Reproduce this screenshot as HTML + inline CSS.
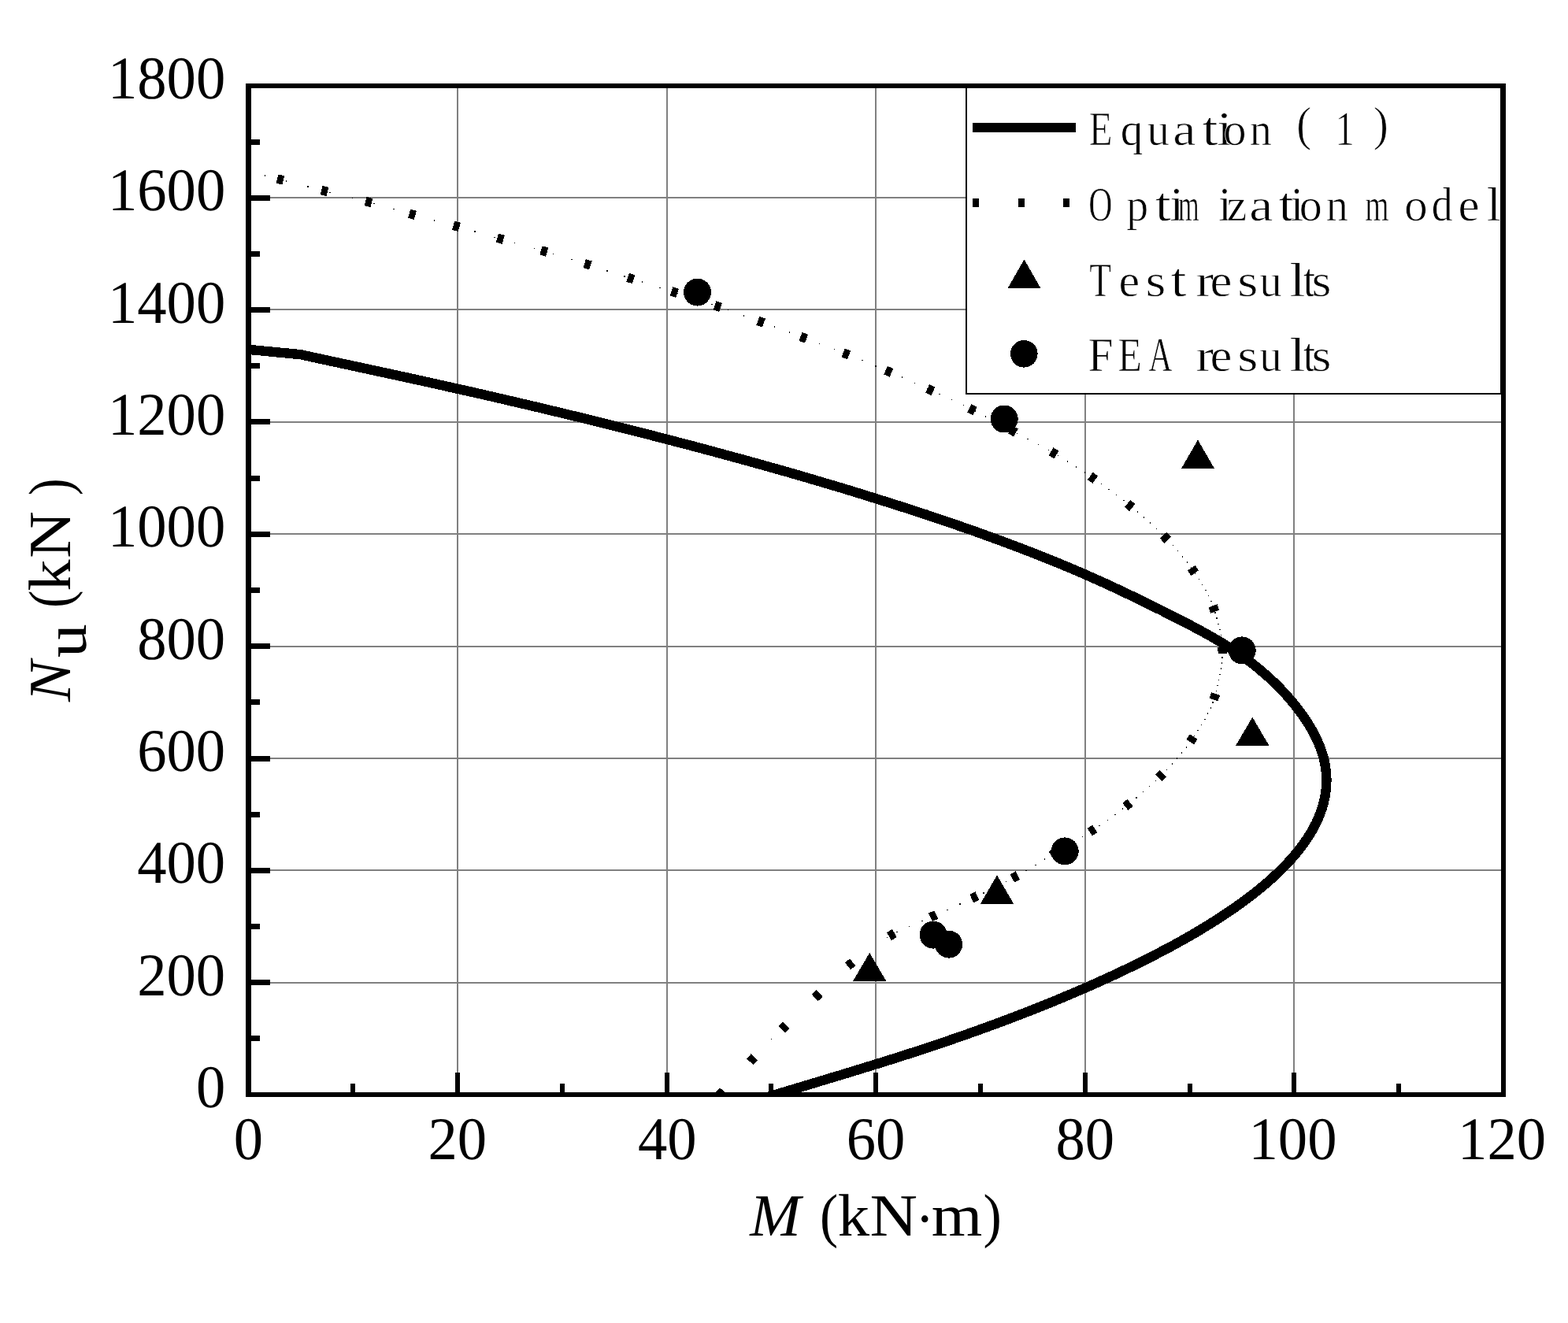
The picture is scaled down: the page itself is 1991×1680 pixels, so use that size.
<!DOCTYPE html>
<html lang="en"><head><meta charset="utf-8"><title>N-M interaction curve</title>
<style>html,body{margin:0;padding:0;background:#fff}body{width:1991px;height:1680px;overflow:hidden}svg{display:block}text{text-rendering:geometricPrecision;font-family:"Liberation Serif","DejaVu Serif",serif;fill:#000;white-space:pre}</style>
</head><body>
<svg role="img" aria-label="N-M interaction curves: Equation (1), Optimization model, Test results, FEA results" width="1991" height="1680" viewBox="0 0 1991 1680">
<rect x="0" y="0" width="1991" height="1680" fill="#fff"/>
<defs><clipPath id="plot"><rect x="312" y="106" width="1600" height="1284"/></clipPath></defs>
<g fill="#808080" shape-rendering="crispEdges"><rect x="580" y="112" width="2" height="1275"/><rect x="846" y="112" width="2" height="1275"/><rect x="1111" y="112" width="2" height="1275"/><rect x="1377" y="112" width="2" height="1275"/><rect x="1642" y="112" width="2" height="1275"/><rect x="319" y="1247" width="1587" height="2"/><rect x="319" y="1104" width="1587" height="2"/><rect x="319" y="962" width="1587" height="2"/><rect x="319" y="820" width="1587" height="2"/><rect x="319" y="677" width="1587" height="2"/><rect x="319" y="535" width="1587" height="2"/><rect x="319" y="392" width="1587" height="2"/><rect x="319" y="250" width="1587" height="2"/></g>
<g clip-path="url(#plot)" shape-rendering="crispEdges">
<path d="M311 443.4 L381.8 450.2 L412.9 457.0 L444.1 463.7 L475.3 470.5 L506.5 477.2 L537.4 484.0 L567.9 490.8 L598.0 497.5 L627.7 504.3 L656.8 511.1 L685.5 517.8 L713.7 524.6 L741.6 531.3 L769.0 538.1 L796.0 544.9 L822.7 551.6 L848.9 558.4 L874.8 565.1 L900.2 571.9 L925.3 578.7 L949.9 585.4 L974.2 592.2 L998.0 598.9 L1021.5 605.7 L1044.5 612.5 L1067.2 619.2 L1089.4 626.0 L1111.2 632.8 L1132.7 639.5 L1153.7 646.3 L1174.4 653.0 L1194.6 659.8 L1214.4 666.6 L1233.8 673.3 L1252.7 680.1 L1271.2 686.8 L1289.3 693.6 L1307.0 700.4 L1324.2 707.1 L1340.9 713.9 L1357.3 720.6 L1373.1 727.4 L1388.5 734.2 L1403.5 740.9 L1418.1 747.7 L1432.4 754.5 L1446.4 761.2 L1460.2 768.0 L1473.8 774.7 L1487.3 781.5 L1500.6 788.3 L1513.6 795.0 L1526.2 801.8 L1538.3 808.5 L1549.9 815.3 L1560.8 822.1 L1571.0 828.8 L1580.7 835.6 L1589.7 842.3 L1598.2 849.1 L1606.2 855.9 L1613.7 862.6 L1620.8 869.4 L1627.4 876.2 L1633.7 882.9 L1639.5 889.7 L1645.1 896.4 L1650.3 903.2 L1655.1 910.0 L1659.7 916.7 L1663.9 923.5 L1667.7 930.2 L1671.1 937.0 L1674.2 943.8 L1676.9 950.5 L1679.2 957.3 L1681.1 964.0 L1682.5 970.8 L1683.5 977.6 L1684.2 984.3 L1684.4 991.1 L1684.1 997.9 L1683.5 1004.6 L1682.5 1011.4 L1681.0 1018.1 L1679.2 1024.9 L1676.9 1031.7 L1674.2 1038.4 L1671.1 1045.2 L1667.6 1051.9 L1663.7 1058.7 L1659.4 1065.5 L1654.6 1072.2 L1649.5 1079.0 L1644.0 1085.7 L1638.1 1092.5 L1631.7 1099.3 L1625.0 1106.0 L1617.9 1112.8 L1610.3 1119.6 L1602.4 1126.3 L1594.1 1133.1 L1585.3 1139.8 L1576.2 1146.6 L1566.7 1153.4 L1556.8 1160.1 L1546.5 1166.9 L1535.8 1173.6 L1524.7 1180.4 L1513.3 1187.2 L1501.4 1193.9 L1489.2 1200.7 L1476.5 1207.4 L1463.5 1214.2 L1450.1 1221.0 L1436.3 1227.7 L1422.2 1234.5 L1407.6 1241.3 L1392.7 1248.0 L1377.4 1254.8 L1361.7 1261.5 L1345.6 1268.3 L1329.1 1275.1 L1312.2 1281.8 L1294.9 1288.6 L1277.1 1295.3 L1259.0 1302.1 L1240.3 1308.9 L1221.2 1315.6 L1201.6 1322.4 L1181.6 1329.1 L1161.0 1335.9 L1140.0 1342.7 L1118.5 1349.4 L1096.6 1356.2 L1074.5 1363.0 L1052.1 1369.7 L1029.7 1376.5 L1007.2 1383.2 L984.8 1390.0 L958.3 1398.0" fill="none" stroke="#000" stroke-width="12.4" stroke-linejoin="round"/>
<g fill="#000"><rect x="-4" y="-5.8" width="8" height="11.6" transform="translate(356 228) rotate(14.5)"/><rect x="-4" y="-5.8" width="8" height="11.6" transform="translate(412 242.5) rotate(14.3)"/><rect x="-4" y="-5.8" width="8" height="11.6" transform="translate(468 256.6) rotate(15.0)"/><rect x="-4" y="-5.8" width="8" height="11.6" transform="translate(523.5 272.3) rotate(15.4)"/><rect x="-4" y="-5.8" width="8" height="11.6" transform="translate(579.5 287.4) rotate(15.5)"/><rect x="-4" y="-5.8" width="8" height="11.6" transform="translate(635.3 303.2) rotate(15.9)"/><rect x="-4" y="-5.8" width="8" height="11.6" transform="translate(690.8 319) rotate(16.4)"/><rect x="-4" y="-5.8" width="8" height="11.6" transform="translate(746 335.8) rotate(17.4)"/><rect x="-4" y="-5.8" width="8" height="11.6" transform="translate(800.8 353.5) rotate(17.7)"/><rect x="-4" y="-5.8" width="8" height="11.6" transform="translate(856.3 371.1) rotate(17.9)"/><rect x="-4" y="-5.8" width="8" height="11.6" transform="translate(911.3 389.1) rotate(18.9)"/><rect x="-4" y="-5.8" width="8" height="11.6" transform="translate(966.1 408.7) rotate(20.0)"/><rect x="-4" y="-5.8" width="8" height="11.6" transform="translate(1020.3 428.8) rotate(20.6)"/><rect x="-4" y="-5.8" width="8" height="11.6" transform="translate(1074.3 449.4) rotate(21.7)"/><rect x="-4" y="-5.8" width="8" height="11.6" transform="translate(1128.3 471.8) rotate(23.1)"/><rect x="-4" y="-5.8" width="8" height="11.6" transform="translate(1181.3 495.1) rotate(24.5)"/><rect x="-4" y="-5.8" width="8" height="11.6" transform="translate(1234.3 520) rotate(26.5)"/><rect x="-4" y="-5.8" width="8" height="11.6" transform="translate(1286.5 547.5) rotate(28.1)"/><rect x="-4" y="-5.8" width="8" height="11.6" transform="translate(1338 575.4) rotate(30.4)"/><rect x="-4" y="-5.8" width="8" height="11.6" transform="translate(1387.5 606.8) rotate(34.6)"/><rect x="-4" y="-5.8" width="8" height="11.6" transform="translate(1434.7 642) rotate(39.4)"/><rect x="-4" y="-5.8" width="8" height="11.6" transform="translate(1479.9 682.7) rotate(45.7)"/><rect x="-4" y="-5.8" width="8" height="11.6" transform="translate(1515 724.4) rotate(55.7)"/><rect x="-4" y="-5.8" width="8" height="11.6" transform="translate(1541.4 773) rotate(69.9)"/><rect x="-4" y="-5.8" width="8" height="11.6" transform="translate(1552.3 826.1) rotate(89.5)"/><rect x="-4" y="-5.8" width="8" height="11.6" transform="translate(1542.3 884.8) rotate(109.0)"/><rect x="-4" y="-5.8" width="8" height="11.6" transform="translate(1513.5 938.8) rotate(124.3)"/><rect x="-4" y="-5.8" width="8" height="11.6" transform="translate(1473.9 985.1) rotate(134.5)"/><rect x="-4" y="-5.8" width="8" height="11.6" transform="translate(1432 1021.8) rotate(141.4)"/><rect x="-4" y="-5.8" width="8" height="11.6" transform="translate(1387 1054.5) rotate(146.5)"/><rect x="-4" y="-5.8" width="8" height="11.6" transform="translate(1338 1084) rotate(149.0)"/><rect x="-4" y="-5.8" width="8" height="11.6" transform="translate(1288.8 1113.5) rotate(151.2)"/><rect x="-4" y="-5.8" width="8" height="11.6" transform="translate(1237.4 1139.4) rotate(154.4)"/><rect x="-4" y="-5.8" width="8" height="11.6" transform="translate(1185.1 1163.2) rotate(155.6)"/><rect x="-4" y="-5.8" width="8" height="11.6" transform="translate(1132.4 1187.1) rotate(149.9)"/><rect x="-4" y="-5.8" width="8" height="11.6" transform="translate(1079.6 1224.3) rotate(140.8)"/><rect x="-4" y="-5.8" width="8" height="11.6" transform="translate(1037.7 1264.2) rotate(136.4)"/><rect x="-4" y="-5.8" width="8" height="11.6" transform="translate(995.5 1304.5) rotate(135.6)"/><rect x="-4" y="-5.8" width="8" height="11.6" transform="translate(955 1345.3) rotate(133.8)"/><rect x="-4" y="-5.8" width="8" height="11.6" transform="translate(915.5 1388) rotate(132.8)"/></g>
<g fill="#000"><rect x="1125.5" y="1190.0" width="1.4" height="1.4"/><rect x="1138.2" y="1182.9" width="1.4" height="1.4"/><rect x="1153.6" y="1175.8" width="1.4" height="1.4"/><rect x="1170.2" y="1168.7" width="1.4" height="1.4"/><rect x="1186.5" y="1161.6" width="1.4" height="1.4"/><rect x="1202.3" y="1154.5" width="1.4" height="1.4"/><rect x="1218.1" y="1147.3" width="1.4" height="1.4"/><rect x="1233.5" y="1140.2" width="1.4" height="1.4"/><rect x="1248.3" y="1133.1" width="1.4" height="1.4"/><rect x="1262.8" y="1126.0" width="1.4" height="1.4"/><rect x="1276.8" y="1118.9" width="1.4" height="1.4"/><rect x="1290.0" y="1111.8" width="1.4" height="1.4"/><rect x="1302.4" y="1104.6" width="1.4" height="1.4"/><rect x="1314.1" y="1097.5" width="1.4" height="1.4"/><rect x="1325.7" y="1090.4" width="1.4" height="1.4"/><rect x="1337.3" y="1083.3" width="1.4" height="1.4"/><rect x="1349.4" y="1076.2" width="1.4" height="1.4"/><rect x="1361.5" y="1069.0" width="1.4" height="1.4"/><rect x="1373.5" y="1061.9" width="1.4" height="1.4"/><rect x="1384.8" y="1054.8" width="1.4" height="1.4"/><rect x="1395.3" y="1047.7" width="1.4" height="1.4"/><rect x="1405.5" y="1040.6" width="1.4" height="1.4"/><rect x="1415.3" y="1033.5" width="1.4" height="1.4"/><rect x="1424.6" y="1026.3" width="1.4" height="1.4"/><rect x="1433.6" y="1019.2" width="1.4" height="1.4"/><rect x="1442.4" y="1012.1" width="1.4" height="1.4"/><rect x="1450.9" y="1005.0" width="1.4" height="1.4"/><rect x="1459.0" y="997.9" width="1.4" height="1.4"/><rect x="1466.7" y="990.8" width="1.4" height="1.4"/><rect x="1473.9" y="983.6" width="1.4" height="1.4"/><rect x="1480.8" y="976.5" width="1.4" height="1.4"/><rect x="1487.5" y="969.4" width="1.4" height="1.4"/><rect x="1493.9" y="962.3" width="1.4" height="1.4"/><rect x="1500.0" y="955.2" width="1.4" height="1.4"/><rect x="1505.7" y="948.1" width="1.4" height="1.4"/><rect x="1510.9" y="940.9" width="1.4" height="1.4"/><rect x="1515.6" y="933.8" width="1.4" height="1.4"/><rect x="1520.3" y="926.7" width="1.4" height="1.4"/><rect x="1524.8" y="919.6" width="1.4" height="1.4"/><rect x="1529.1" y="912.5" width="1.4" height="1.4"/><rect x="1533.0" y="905.4" width="1.4" height="1.4"/><rect x="1536.5" y="898.2" width="1.4" height="1.4"/><rect x="1539.4" y="891.1" width="1.4" height="1.4"/><rect x="1541.6" y="884.0" width="1.4" height="1.4"/><rect x="1543.5" y="876.9" width="1.4" height="1.4"/><rect x="1545.2" y="869.8" width="1.4" height="1.4"/><rect x="1546.9" y="862.7" width="1.4" height="1.4"/><rect x="1548.4" y="855.5" width="1.4" height="1.4"/><rect x="1549.6" y="848.4" width="1.4" height="1.4"/><rect x="1550.6" y="841.3" width="1.4" height="1.4"/><rect x="1551.3" y="834.2" width="1.4" height="1.4"/><rect x="1551.6" y="827.1" width="1.4" height="1.4"/><rect x="1551.4" y="820.0" width="1.4" height="1.4"/><rect x="1550.7" y="812.8" width="1.4" height="1.4"/><rect x="1549.6" y="805.7" width="1.4" height="1.4"/><rect x="1548.1" y="798.6" width="1.4" height="1.4"/><rect x="1546.3" y="791.5" width="1.4" height="1.4"/><rect x="1544.3" y="784.4" width="1.4" height="1.4"/><rect x="1542.2" y="777.3" width="1.4" height="1.4"/><rect x="1540.0" y="770.1" width="1.4" height="1.4"/><rect x="1537.3" y="763.0" width="1.4" height="1.4"/><rect x="1534.0" y="755.9" width="1.4" height="1.4"/><rect x="1530.2" y="748.8" width="1.4" height="1.4"/><rect x="1526.0" y="741.7" width="1.4" height="1.4"/><rect x="1521.5" y="734.6" width="1.4" height="1.4"/><rect x="1516.8" y="727.4" width="1.4" height="1.4"/><rect x="1512.0" y="720.3" width="1.4" height="1.4"/><rect x="1506.8" y="713.2" width="1.4" height="1.4"/><rect x="1501.0" y="706.1" width="1.4" height="1.4"/><rect x="1494.9" y="699.0" width="1.4" height="1.4"/><rect x="1488.5" y="691.9" width="1.4" height="1.4"/><rect x="1481.8" y="684.8" width="1.4" height="1.4"/><rect x="1474.9" y="677.6" width="1.4" height="1.4"/><rect x="1467.6" y="670.5" width="1.4" height="1.4"/><rect x="1459.9" y="663.4" width="1.4" height="1.4"/><rect x="1451.8" y="656.3" width="1.4" height="1.4"/><rect x="1443.5" y="649.2" width="1.4" height="1.4"/><rect x="1434.9" y="642.0" width="1.4" height="1.4"/><rect x="1426.1" y="634.9" width="1.4" height="1.4"/><rect x="1416.9" y="627.8" width="1.4" height="1.4"/><rect x="1407.4" y="620.7" width="1.4" height="1.4"/><rect x="1397.5" y="613.6" width="1.4" height="1.4"/><rect x="1387.3" y="606.5" width="1.4" height="1.4"/><rect x="1376.8" y="599.3" width="1.4" height="1.4"/><rect x="1365.9" y="592.2" width="1.4" height="1.4"/><rect x="1354.6" y="585.1" width="1.4" height="1.4"/><rect x="1342.9" y="578.0" width="1.4" height="1.4"/><rect x="1330.7" y="570.9" width="1.4" height="1.4"/><rect x="1317.8" y="563.8" width="1.4" height="1.4"/><rect x="1304.4" y="556.6" width="1.4" height="1.4"/><rect x="1290.9" y="549.5" width="1.4" height="1.4"/><rect x="1277.6" y="542.4" width="1.4" height="1.4"/><rect x="1264.4" y="535.3" width="1.4" height="1.4"/><rect x="1251.0" y="528.2" width="1.4" height="1.4"/><rect x="1237.1" y="521.1" width="1.4" height="1.4"/><rect x="1222.7" y="513.9" width="1.4" height="1.4"/><rect x="1207.7" y="506.8" width="1.4" height="1.4"/><rect x="1192.3" y="499.7" width="1.4" height="1.4"/><rect x="1176.6" y="492.6" width="1.4" height="1.4"/><rect x="1160.7" y="485.5" width="1.4" height="1.4"/><rect x="1144.5" y="478.4" width="1.4" height="1.4"/><rect x="1128.0" y="471.3" width="1.4" height="1.4"/><rect x="1111.2" y="464.1" width="1.4" height="1.4"/><rect x="1094.1" y="457.0" width="1.4" height="1.4"/><rect x="1076.6" y="449.9" width="1.4" height="1.4"/><rect x="1058.5" y="442.8" width="1.4" height="1.4"/><rect x="1039.7" y="435.7" width="1.4" height="1.4"/><rect x="1020.8" y="428.6" width="1.4" height="1.4"/><rect x="1001.8" y="421.4" width="1.4" height="1.4"/><rect x="982.6" y="414.3" width="1.4" height="1.4"/><rect x="963.2" y="407.2" width="1.4" height="1.4"/><rect x="943.6" y="400.1" width="1.4" height="1.4"/><rect x="923.7" y="393.0" width="1.4" height="1.4"/><rect x="903.1" y="385.8" width="1.4" height="1.4"/><rect x="881.5" y="378.7" width="1.4" height="1.4"/><rect x="859.4" y="371.6" width="1.4" height="1.4"/><rect x="837.1" y="364.5" width="1.4" height="1.4"/><rect x="814.5" y="357.4" width="1.4" height="1.4"/><rect x="792.2" y="350.3" width="1.4" height="1.4"/><rect x="770.4" y="343.1" width="1.4" height="1.4"/><rect x="748.3" y="336.0" width="1.4" height="1.4"/><rect x="725.4" y="328.9" width="1.4" height="1.4"/><rect x="701.9" y="321.8" width="1.4" height="1.4"/><rect x="677.7" y="314.7" width="1.4" height="1.4"/><rect x="652.5" y="307.6" width="1.4" height="1.4"/><rect x="627.4" y="300.5" width="1.4" height="1.4"/><rect x="602.4" y="293.3" width="1.4" height="1.4"/><rect x="577.0" y="286.2" width="1.4" height="1.4"/><rect x="550.6" y="279.1" width="1.4" height="1.4"/><rect x="524.2" y="272.0" width="1.4" height="1.4"/><rect x="499.2" y="264.9" width="1.4" height="1.4"/><rect x="474.1" y="257.8" width="1.4" height="1.4"/><rect x="446.8" y="250.6" width="1.4" height="1.4"/><rect x="418.1" y="243.5" width="1.4" height="1.4"/><rect x="390.3" y="236.4" width="1.4" height="1.4"/><rect x="362.9" y="229.3" width="1.4" height="1.4"/><rect x="335.5" y="222.2" width="1.4" height="1.4"/><rect x="979" y="1318.7" width="1.4" height="1.4"/></g>
</g>
<g fill="#000" shape-rendering="crispEdges"><circle cx="885.5" cy="371.1" r="17.5"/><circle cx="1275.2" cy="532" r="17.5"/><circle cx="1577.2" cy="825.9" r="17.5"/><circle cx="1352.2" cy="1080.9" r="17.5"/><circle cx="1185.1" cy="1187.1" r="17.5"/><circle cx="1204.7" cy="1199.1" r="17.5"/><polygon points="1521,558.6 1542,594.9 1500,594.9"/><polygon points="1590.3,910.7 1611.3,946.5 1569.3,946.5"/><polygon points="1266,1111.3 1287,1147.5 1245,1147.5"/><polygon points="1104.2,1209.9 1125.2,1245.6 1083.2,1245.6"/></g>
<g id="legend" shape-rendering="crispEdges">
<rect x="1227" y="109" width="679" height="390.5" fill="#fff" stroke="#000" stroke-width="2"/>
<rect x="1235" y="156" width="131" height="12" fill="#000"/>
<rect x="1235" y="252" width="8" height="11" fill="#000"/><rect x="1293" y="252" width="8" height="11" fill="#000"/><rect x="1350" y="252" width="8" height="11" fill="#000"/>
<polygon points="1300.5,329.5 1321.3,365.8 1279.7,365.8" fill="#000"/>
<circle cx="1300.3" cy="449.3" r="17.3" fill="#000"/>
<text id="leg0" aria-label="Equation (1)" y="184" font-size="61" stroke="#fff" stroke-width="0.7"><tspan x="1382.7" textLength="29.8" lengthAdjust="spacingAndGlyphs" y="184">E</tspan><tspan x="1422.7" textLength="28.5" lengthAdjust="spacingAndGlyphs" y="184" font-size="58">q</tspan><tspan x="1456.5" textLength="28.4" lengthAdjust="spacingAndGlyphs" y="184" font-size="58">u</tspan><tspan x="1489.3" textLength="29.3" lengthAdjust="spacingAndGlyphs" y="184" font-size="58">a</tspan><tspan x="1526.5" textLength="20.0" lengthAdjust="spacingAndGlyphs" y="184">t</tspan><tspan x="1545.0" textLength="19.9" lengthAdjust="spacingAndGlyphs" y="184">i</tspan><tspan x="1553.4" textLength="29.0" lengthAdjust="spacingAndGlyphs" y="184" font-size="58">o</tspan><tspan x="1586.7" textLength="28.1" lengthAdjust="spacingAndGlyphs" y="184" font-size="58">n</tspan><tspan x="1625" y="184"> </tspan><tspan x="1646.2" textLength="18.8" lengthAdjust="spacingAndGlyphs" y="178">(</tspan><tspan x="1695.5" textLength="24.4" lengthAdjust="spacingAndGlyphs" y="184">1</tspan><tspan x="1743.9" textLength="18.8" lengthAdjust="spacingAndGlyphs" y="178">)</tspan></text>
<text id="leg1" aria-label="Optimization model" y="280" font-size="61" stroke="#fff" stroke-width="0.7"><tspan x="1382.3" textLength="30.2" lengthAdjust="spacingAndGlyphs" y="280">O</tspan><tspan x="1430.3" textLength="27.9" lengthAdjust="spacingAndGlyphs" y="280" font-size="58">p</tspan><tspan x="1466.7" textLength="20.0" lengthAdjust="spacingAndGlyphs" y="280">t</tspan><tspan x="1485.3" textLength="18.1" lengthAdjust="spacingAndGlyphs" y="280">i</tspan><tspan x="1495.9" textLength="26.6" lengthAdjust="spacingAndGlyphs" y="280" font-size="58">m</tspan><tspan x="1547.0" textLength="16.8" lengthAdjust="spacingAndGlyphs" y="280">i</tspan><tspan x="1557.4" textLength="25.8" lengthAdjust="spacingAndGlyphs" y="280" font-size="58">z</tspan><tspan x="1586.3" textLength="30.0" lengthAdjust="spacingAndGlyphs" y="280" font-size="58">a</tspan><tspan x="1623.5" textLength="20.0" lengthAdjust="spacingAndGlyphs" y="280">t</tspan><tspan x="1638.8" textLength="16.4" lengthAdjust="spacingAndGlyphs" y="280">i</tspan><tspan x="1649.8" textLength="29.0" lengthAdjust="spacingAndGlyphs" y="280" font-size="58">o</tspan><tspan x="1683.7" textLength="28.1" lengthAdjust="spacingAndGlyphs" y="280" font-size="58">n</tspan><tspan x="1715" y="280"> </tspan><tspan x="1733.2" textLength="30.4" lengthAdjust="spacingAndGlyphs" y="280" font-size="58">m</tspan><tspan x="1783.3" textLength="29.4" lengthAdjust="spacingAndGlyphs" y="280" font-size="58">o</tspan><tspan x="1817.8" textLength="26.9" lengthAdjust="spacingAndGlyphs" y="280">d</tspan><tspan x="1851.4" textLength="27.0" lengthAdjust="spacingAndGlyphs" y="280" font-size="58">e</tspan><tspan x="1887.7" textLength="18.1" lengthAdjust="spacingAndGlyphs" y="280">l</tspan></text>
<text id="leg2" aria-label="Test results" y="376.3" font-size="61" stroke="#fff" stroke-width="0.7"><tspan x="1383.2" textLength="27.7" lengthAdjust="spacingAndGlyphs" y="376.3">T</tspan><tspan x="1420.6" textLength="26.6" lengthAdjust="spacingAndGlyphs" y="376.3" font-size="58">e</tspan><tspan x="1454.4" textLength="25.9" lengthAdjust="spacingAndGlyphs" y="376.3" font-size="58">s</tspan><tspan x="1486.4" textLength="20.0" lengthAdjust="spacingAndGlyphs" y="376.3">t</tspan><tspan x="1508" y="376.3"> </tspan><tspan x="1518.6" textLength="22.8" lengthAdjust="spacingAndGlyphs" y="376.3" font-size="58">r</tspan><tspan x="1536.5" textLength="27.9" lengthAdjust="spacingAndGlyphs" y="376.3" font-size="58">e</tspan><tspan x="1571.2" textLength="26.2" lengthAdjust="spacingAndGlyphs" y="376.3" font-size="58">s</tspan><tspan x="1599.3" textLength="28.4" lengthAdjust="spacingAndGlyphs" y="376.3" font-size="58">u</tspan><tspan x="1637.5" textLength="20.0" lengthAdjust="spacingAndGlyphs" y="376.3">l</tspan><tspan x="1654.7" textLength="15.4" lengthAdjust="spacingAndGlyphs" y="376.3">t</tspan><tspan x="1665.4" textLength="24.9" lengthAdjust="spacingAndGlyphs" y="376.3" font-size="58">s</tspan></text>
<text id="leg3" aria-label="FEA results" y="471.2" font-size="61" stroke="#fff" stroke-width="0.7"><tspan x="1381.5" textLength="31.9" lengthAdjust="spacingAndGlyphs" y="471.2">F</tspan><tspan x="1419.5" textLength="30.3" lengthAdjust="spacingAndGlyphs" y="471.2">E</tspan><tspan x="1458.6" textLength="29.9" lengthAdjust="spacingAndGlyphs" y="471.2">A</tspan><tspan x="1495" y="471.2"> </tspan><tspan x="1518.6" textLength="22.8" lengthAdjust="spacingAndGlyphs" y="471.2" font-size="58">r</tspan><tspan x="1536.5" textLength="27.9" lengthAdjust="spacingAndGlyphs" y="471.2" font-size="58">e</tspan><tspan x="1571.2" textLength="26.2" lengthAdjust="spacingAndGlyphs" y="471.2" font-size="58">s</tspan><tspan x="1599.3" textLength="28.4" lengthAdjust="spacingAndGlyphs" y="471.2" font-size="58">u</tspan><tspan x="1637.5" textLength="20.0" lengthAdjust="spacingAndGlyphs" y="471.2">l</tspan><tspan x="1654.7" textLength="15.4" lengthAdjust="spacingAndGlyphs" y="471.2">t</tspan><tspan x="1665.4" textLength="24.9" lengthAdjust="spacingAndGlyphs" y="471.2" font-size="58">s</tspan></text>
</g>
<g fill="#000" shape-rendering="crispEdges"><rect x="312" y="106" width="7" height="1287"/><rect x="1906" y="106" width="6" height="1287"/><rect x="312" y="106" width="1600" height="6"/><rect x="312" y="1387" width="1600" height="6"/><rect x="319" y="1315" width="11" height="7"/><rect x="319" y="1244" width="24" height="7"/><rect x="319" y="1173" width="11" height="7"/><rect x="319" y="1102" width="24" height="7"/><rect x="319" y="1031" width="11" height="7"/><rect x="319" y="960" width="24" height="7"/><rect x="319" y="888" width="11" height="7"/><rect x="319" y="817" width="24" height="7"/><rect x="319" y="746" width="11" height="7"/><rect x="319" y="675" width="24" height="7"/><rect x="319" y="604" width="11" height="7"/><rect x="319" y="532" width="24" height="7"/><rect x="319" y="461" width="11" height="7"/><rect x="319" y="390" width="24" height="7"/><rect x="319" y="319" width="11" height="7"/><rect x="319" y="248" width="24" height="7"/><rect x="319" y="177" width="11" height="7"/><rect x="445" y="1376" width="6" height="11"/><rect x="578" y="1362" width="6" height="25"/><rect x="711" y="1376" width="6" height="11"/><rect x="844" y="1362" width="6" height="25"/><rect x="976" y="1376" width="6" height="11"/><rect x="1109" y="1362" width="6" height="25"/><rect x="1242" y="1376" width="6" height="11"/><rect x="1375" y="1362" width="6" height="25"/><rect x="1508" y="1376" width="6" height="11"/><rect x="1640" y="1362" width="6" height="25"/><rect x="1773" y="1376" width="6" height="11"/></g>
<text class="yt" x="248.9" y="1405.9" font-size="77" textLength="37.3" lengthAdjust="spacingAndGlyphs">0</text><text class="yt" x="174.2" y="1263.6" font-size="77" textLength="112.0" lengthAdjust="spacingAndGlyphs">200</text><text class="yt" x="174.2" y="1121.2" font-size="77" textLength="112.0" lengthAdjust="spacingAndGlyphs">400</text><text class="yt" x="174.2" y="978.9" font-size="77" textLength="112.0" lengthAdjust="spacingAndGlyphs">600</text><text class="yt" x="174.2" y="836.6" font-size="77" textLength="112.0" lengthAdjust="spacingAndGlyphs">800</text><text class="yt" x="136.9" y="694.2" font-size="77" textLength="149.4" lengthAdjust="spacingAndGlyphs">1000</text><text class="yt" x="136.9" y="551.9" font-size="77" textLength="149.4" lengthAdjust="spacingAndGlyphs">1200</text><text class="yt" x="136.9" y="409.6" font-size="77" textLength="149.4" lengthAdjust="spacingAndGlyphs">1400</text><text class="yt" x="136.9" y="267.2" font-size="77" textLength="149.4" lengthAdjust="spacingAndGlyphs">1600</text><text class="yt" x="136.9" y="124.9" font-size="77" textLength="149.4" lengthAdjust="spacingAndGlyphs">1800</text><text class="xt" x="296.8" y="1471.6" font-size="77" textLength="37.3" lengthAdjust="spacingAndGlyphs">0</text><text class="xt" x="543.5" y="1471.6" font-size="77" textLength="74.7" lengthAdjust="spacingAndGlyphs">20</text><text class="xt" x="810.0" y="1471.6" font-size="77" textLength="74.7" lengthAdjust="spacingAndGlyphs">40</text><text class="xt" x="1074.7" y="1471.6" font-size="77" textLength="74.7" lengthAdjust="spacingAndGlyphs">60</text><text class="xt" x="1340.5" y="1471.6" font-size="77" textLength="74.7" lengthAdjust="spacingAndGlyphs">80</text><text class="xt" x="1585.5" y="1471.6" font-size="77" textLength="112.0" lengthAdjust="spacingAndGlyphs">100</text><text class="xt" x="1851.1" y="1471.6" font-size="77" textLength="112.0" lengthAdjust="spacingAndGlyphs">120</text>
<text id="xtitle" aria-label="M (kN·m)" y="1568.6" font-size="76"><tspan x="952.2" textLength="64.5" lengthAdjust="spacingAndGlyphs" font-style="italic" y="1568.6">M</tspan><tspan x="1024"> </tspan><tspan x="1041.0" textLength="23.1" lengthAdjust="spacingAndGlyphs" y="1568.6">(</tspan><tspan x="1063.7" textLength="40.3" lengthAdjust="spacingAndGlyphs" y="1568.6">k</tspan><tspan x="1104.4" textLength="60.5" lengthAdjust="spacingAndGlyphs" y="1568.6">N</tspan><tspan x="1162.3" textLength="24.0" lengthAdjust="spacingAndGlyphs" y="1572.6">·</tspan><tspan x="1182.7" textLength="64.6" lengthAdjust="spacingAndGlyphs" y="1568.6">m</tspan><tspan x="1248.5" textLength="23.3" lengthAdjust="spacingAndGlyphs" y="1568.6">)</tspan></text>
<text id="ytitle" aria-label="Nu (kN)" transform="translate(89 892) rotate(-90)" font-size="76"><tspan x="0.9" textLength="52.1" lengthAdjust="spacingAndGlyphs" font-style="italic" y="0">N</tspan><tspan x="56.9" textLength="42.6" lengthAdjust="spacingAndGlyphs" y="20">u</tspan><tspan x="100" y="0"> </tspan><tspan x="119.9" textLength="22.3" lengthAdjust="spacingAndGlyphs" y="0">(</tspan><tspan x="141.5" textLength="40.0" lengthAdjust="spacingAndGlyphs" y="0">k</tspan><tspan x="183.1" textLength="60.0" lengthAdjust="spacingAndGlyphs" y="0">N</tspan><tspan x="245" y="0"> </tspan><tspan x="262.9" textLength="21.5" lengthAdjust="spacingAndGlyphs" y="0">)</tspan></text>
</svg></body></html>
